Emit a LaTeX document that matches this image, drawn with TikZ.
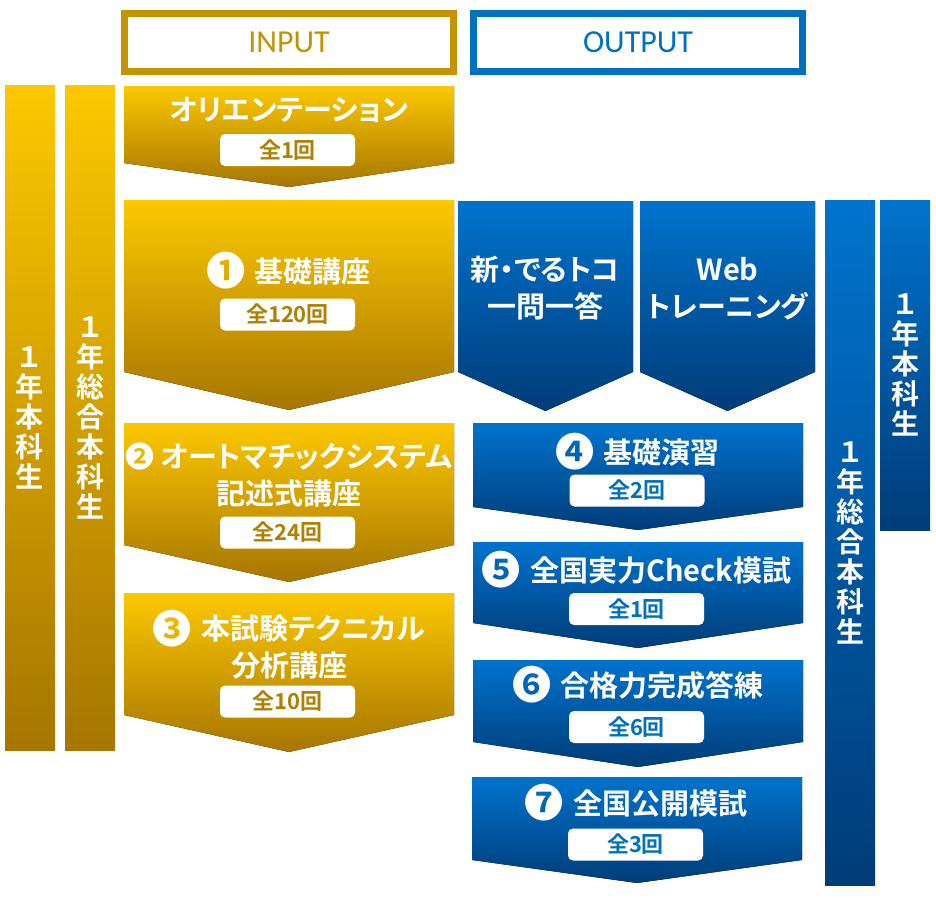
\documentclass[tikz,border=0pt]{standalone}
\usepackage{fontspec}
\usepackage{graphicx}
\usepackage{tikz}
\usepackage{xcolor}

\newfontfamily\jpfont[BoldFont={Noto Sans CJK JP Bold}, RawFeature={+palt}]{Noto Sans CJK JP}
\newfontfamily\barfont[BoldFont={Noto Sans CJK JP Bold}]{Noto Sans CJK JP}
\newfontfamily\latinfont{Carlito}
\newcommand\cnum[2][1.35]{\raisebox{-\dimexpr(#1pt*11-11pt)\relax}{\scalebox{#1}{#2}}\hspace{3pt}}

\definecolor{goldtop}{RGB}{252,200,0}
\definecolor{goldbot}{RGB}{166,118,0}
\definecolor{bluetop}{RGB}{0,115,205}
\definecolor{bluebot}{RGB}{0,60,120}
\definecolor{inputgold}{RGB}{195,148,0}
\definecolor{outputblue}{RGB}{0,112,192}
\definecolor{cntgold}{RGB}{176,128,0}

\begin{document}
\begin{tikzpicture}[x=1pt, y=-1pt,
	goldfill/.style={top color=goldtop, bottom color=goldbot},
	bluefill/.style={top color=bluetop, bottom color=bluebot},
	frame/.style={line width=7pt, minimum width=329pt, minimum height=58pt, inner sep=0pt, font=\latinfont\fontsize{32}{32}\selectfont},
	ttl/.style={text=white, align=center, inner sep=0pt, font=\jpfont\bfseries\fontsize{29}{37}\selectfont},
	badge/.style={fill=white, rounded corners=5pt, minimum width=135pt, minimum height=32pt, inner sep=0pt, font=\barfont\bfseries\fontsize{22}{22}\selectfont},
	bar/.style={minimum width=50pt, inner sep=0pt, text=white, align=center, font=\barfont\bfseries\fontsize{28}{30}\selectfont}
]
	\useasboundingbox (0,0) rectangle (936,897);

	\node[frame, draw=inputgold, text=inputgold] (hdrIn) at (289,42.5) {INPUT};
	\node[frame, draw=outputblue, text=outputblue] (hdrOut) at (638,42.5) {OUTPUT};

	\node[bar, goldfill, minimum height=665pt] (barHonka) at (30,417.5) {１\\年\\本\\科\\生};
	\node[bar, goldfill, minimum height=665pt] (barSogo) at (90,417.5) {１\\年\\総\\合\\本\\科\\生};
	\node[bar, bluefill, minimum height=685pt] (barSogoR) at (850,542.5) {１\\年\\総\\合\\本\\科\\生};
	\node[bar, bluefill, minimum height=330pt] (barHonkaR) at (905,365) {１\\年\\本\\科\\生};

	\fill[goldfill] (124,86) -- (454,86) -- (454,163) -- (289,187) -- (124,163) -- cycle;
	\fill[goldfill] (124,200) -- (454,200) -- (454,372) -- (289,410) -- (124,372) -- cycle;
	\fill[goldfill] (124,423) -- (454,423) -- (454,545) -- (289,582) -- (124,545) -- cycle;
	\fill[goldfill] (124,593) -- (454,593) -- (454,715) -- (289,752) -- (124,715) -- cycle;

	\fill[bluefill] (458,201) -- (633,201) -- (633,372) -- (545.5,411) -- (458,372) -- cycle;
	\fill[bluefill] (640,201) -- (815,201) -- (815,372) -- (727.5,411) -- (640,372) -- cycle;
	\fill[bluefill] (473,423) -- (803,423) -- (803,507) -- (638,530) -- (473,507) -- cycle;
	\fill[bluefill] (473,542) -- (803,542) -- (803,623) -- (638,648) -- (473,623) -- cycle;
	\fill[bluefill] (473,660) -- (803,660) -- (803,742) -- (638,767) -- (473,742) -- cycle;
	\fill[bluefill] (472,777) -- (802,777) -- (802,860) -- (637,883) -- (472,860) -- cycle;

	\node[ttl] (ttlOri) at (289,110) {オリエンテーション};
	\node[ttl] (ttlKiso) at (288.5,271) {\cnum{❶} 基礎講座};
	\node[ttl] (ttlAuto) at (289,475) {❷ オートマチックシステム\\記述式講座};
	\node[ttl] (ttlTech) at (289,645) {\cnum{❸} 本試験テクニカル\\分析講座};
	\node[ttl] (ttlDeru) at (545.5,288.5) {新・でるトコ\\一問一答};
	\node[ttl] (ttlWeb) at (727.5,288.5) {Web\\トレーニング};
	\node[ttl] (ttlEnshu) at (637.5,452) {\cnum{❹} 基礎演習};
	\node[ttl] (ttlCheck) at (636.5,570) {\cnum{❺} 全国実力Check模試};
	\node[ttl] (ttlGokaku) at (638,685) {\cnum{❻} 合格力完成答練};
	\node[ttl] (ttlKokai) at (636,803) {\cnum{❼} 全国公開模試};

	\node[badge, text=cntgold] (cntOri) at (287.5,150) {全1回};
	\node[badge, text=cntgold] (cntKiso) at (287.5,314.5) {全120回};
	\node[badge, text=cntgold] (cntAuto) at (287.5,532.5) {全24回};
	\node[badge, text=cntgold] (cntTech) at (287.5,701.5) {全10回};
	\node[badge, text=outputblue] (cntEnshu) at (637,490.5) {全2回};
	\node[badge, text=outputblue] (cntCheck) at (636.5,609) {全1回};
	\node[badge, text=outputblue] (cntGokaku) at (636.5,727) {全6回};
	\node[badge, text=outputblue] (cntKokai) at (635.5,844.5) {全3回};
\end{tikzpicture}
\end{document}
